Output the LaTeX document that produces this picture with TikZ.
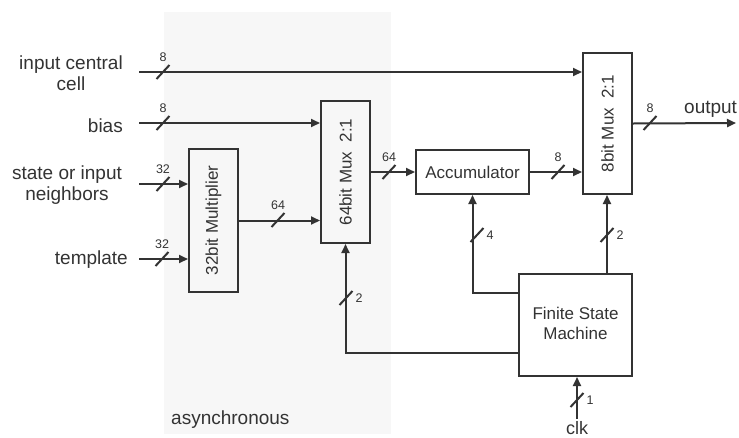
\documentclass[tikz,border=0pt]{standalone}
\usepackage{fontspec}
\setmainfont{Liberation Sans}
\usetikzlibrary{arrows.meta}
\definecolor{ink}{HTML}{333333}
\definecolor{bgzone}{HTML}{F7F7F7}
\newcommand{\busH}[2]{%
  \draw[wire] (#1) ++(-6.5,7) -- ++(13,-14);
  \path (#1) ++(0,-11) node[numlab,anchor=base]{#2};}
\newcommand{\busV}[2]{%
  \draw[wire] (#1) ++(-6.5,7) -- ++(13,-14);
  \path (#1) ++(13,0) node[numlab]{#2};}
\begin{document}
\begin{tikzpicture}[x=1pt,y=-1pt,
  wire/.style={draw=ink,line width=2pt},
  arr/.style={wire,-{Triangle[length=9pt,width=8pt]}},
  box/.style={draw=ink,line width=2pt,rectangle,inner sep=0pt},
  lab/.style={text=ink,font=\fontsize{19}{21}\selectfont,inner sep=0pt},
  blab/.style={text=ink,font=\fontsize{17}{20}\selectfont,inner sep=0pt},
  numlab/.style={text=ink,font=\fontsize{12.5}{14}\selectfont,inner sep=0pt}]
\useasboundingbox (0,0) rectangle (739,437);
\fill[bgzone] (164,12) rectangle (391,434);

% boxes
\node[box,minimum width=49pt,minimum height=143pt] (mult) at (213.5,220.5) {};
\node[blab,rotate=90] (multlab) at (mult) {32bit Multiplier};
\node[box,minimum width=49pt,minimum height=142pt] (mux64) at (345.5,172) {};
\node[blab,rotate=90] (mux64lab) at (mux64) {64bit Mux\ \ 2:1};
\node[box,minimum width=113pt,minimum height=44pt] (acc) at (472.5,172) {};
\node[blab] (acclab) at (acc) {Accumulator};
\node[box,minimum width=49pt,minimum height=141pt] (mux8) at (607.5,123.5) {};
\node[blab,rotate=90] (mux8lab) at (mux8) {8bit Mux\ \ 2:1};
\node[box,minimum width=113pt,minimum height=102pt] (fsm) at (575.5,325) {};
\node[blab,align=center] (fsmlab) at (575.5,323) {Finite State\\Machine};

% outer labels
\node[lab,align=center] (incell) at (71,73) {input central\\cell};
\node[lab,anchor=base east] (bias) at (123,132) {bias};
\node[lab,align=center] (state) at (67,185) {state or input\\neighbors};
\node[lab,anchor=base east] (templ) at (128,264) {template};
\node[lab,anchor=base west] (out) at (684,113) {output};
\node[lab,anchor=base west] (async) at (171,424) {asynchronous};
\node[lab,font=\fontsize{18}{20}\selectfont,anchor=base] (clk) at (577,434.5) {clk};

% start points
\coordinate (incellS) at (139,72);
\coordinate (biasS) at (139,123);
\coordinate (stateS) at (139,184);
\coordinate (templS) at (139,259);
\coordinate (outE) at (736,123);
\coordinate (clkS) at (577,419);

% connectors
\draw[arr] (incellS) -- (incellS -| mux8.west);
\draw[arr] (biasS) -- (biasS -| mux64.west);
\draw[arr] (stateS) -- (stateS -| mult.west);
\draw[arr] (templS) -- (templS -| mult.west);
\draw[arr] (mult.east) -- (mult.east -| mux64.west);
\draw[arr] (mux64.east) -- (acc.west);
\draw[arr] (acc.east) -- (acc.east -| mux8.west);
\draw[arr] (mux8.east) -- (outE);
\draw[arr] (fsm.west |- 0,293) -| (acc.south);
\draw[arr] (fsm.north -| 607,0) -- (mux8.south -| 607,0);
\draw[arr] (fsm.west |- 0,353) -| (mux64.south);
\draw[arr] (clkS) -- (clkS |- fsm.south);

% bus width marks
\busH{163,72}{8}
\busH{163,123}{8}
\busH{163,184}{32}
\busH{162,259}{32}
\busH{278,220}{64}
\busH{389,172}{64}
\busH{558,172}{8}
\busH{650,123}{8}
\busV{477,235}{4}
\busV{607,235}{2}
\busV{346,298}{2}
\busV{577,400}{1}
\end{tikzpicture}
\end{document}
